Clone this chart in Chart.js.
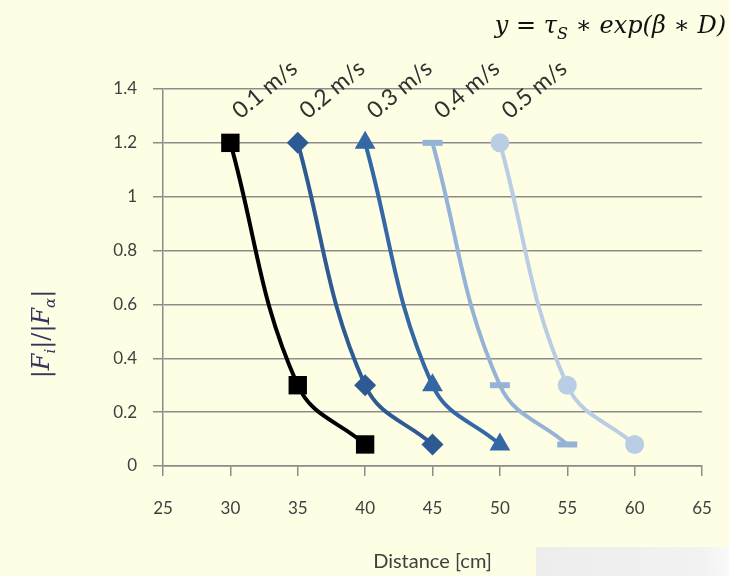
<!DOCTYPE html>
<html><head><meta charset="utf-8">
<script src="https://cdn.jsdelivr.net/npm/chart.js@4"></script>
<style>html,body{margin:0;padding:0;background:#fefee4;}#wrap{width:729px;height:576px;}</style>
</head><body><div id="wrap"><canvas id="c" width="729" height="576"></canvas></div>
<script>
const seriesNames = ['0.1 m/s', '0.2 m/s', '0.3 m/s', '0.4 m/s', '0.5 m/s'];
const dist01 = [30, 35, 40];
const dist02 = [35, 40, 45];
const dist03 = [40, 45, 50];
const dist04 = [45, 50, 55];
const dist05 = [50, 55, 60];
const ratio01 = [1.2, 0.3, 0.08];
const ratio02 = [1.2, 0.3, 0.08];
const ratio03 = [1.2, 0.3, 0.08];
const ratio04 = [1.2, 0.3, 0.08];
const ratio05 = [1.2, 0.3, 0.08];
const yTickValues = [0, 0.2, 0.4, 0.6, 0.8, 1, 1.2, 1.4];
const xTickValues = [25, 30, 35, 40, 45, 50, 55, 60, 65];
const xAxisTitle = 'Distance [cm]';

const allDist = [dist01, dist02, dist03, dist04, dist05];
const allRatio = [ratio01, ratio02, ratio03, ratio04, ratio05];
const colors = ['#000000', '#2e5a94', '#3467a6', '#95b3d7', '#b9cde5'];
const styles = ['rect', 'rectRot', 'triangle', 'line', 'circle'];
const radii = [13, 11, 12, 10, 9.5];

const datasets = seriesNames.map((name, i) => ({
  label: name,
  data: allDist[i].map((d, j) => ({x: d, y: allRatio[i][j]})),
  borderColor: colors[i],
  backgroundColor: colors[i],
  borderWidth: 4,
  tension: 0.4,
  pointStyle: styles[i],
  pointRadius: radii[i],
  pointBorderWidth: styles[i] === 'line' ? 6 : 0,
  pointBorderColor: colors[i],
  pointBackgroundColor: colors[i],
  clip: false
}));

const FONT = 'Lato, "Open Sans", sans-serif';
const txt = '#404040';
const gridC = '#8c8c8c';

const decor = {
  id: 'decor',
  beforeDraw(chart) {
    const ctx = chart.ctx;
    ctx.save();
    ctx.fillStyle = '#fefee4';
    ctx.fillRect(0, 0, chart.width, chart.height);
    const g = ctx.createLinearGradient(536, 576, 729, 547);
    g.addColorStop(0, '#ededed');
    g.addColorStop(0.85, '#f2f2f2');
    g.addColorStop(1, '#fafafa');
    ctx.fillStyle = g;
    ctx.fillRect(536, 547, 193, 29);
    ctx.restore();
  },
  afterDraw(chart) {
    const ctx = chart.ctx;
    const xs = chart.scales.x, ys = chart.scales.y;
    ctx.save();
    // series labels
    ctx.fillStyle = '#303030';
    ctx.font = '23px ' + FONT;
    ctx.textAlign = 'left';
    ctx.textBaseline = 'alphabetic';
    seriesNames.forEach((n, i) => {
      const px = xs.getPixelForValue(allDist[i][0]) + 10;
      const py = ys.getPixelForValue(allRatio[i][0]) - 23;
      ctx.save();
      ctx.translate(px, py);
      ctx.rotate(-40 * Math.PI / 180);
      ctx.fillText(n, 0, 0);
      ctx.restore();
    });
    // equation
    const SERIF = '"DejaVu Serif", "Liberation Serif", serif';
    const parts = [
      ['y = τ', 24, 0], ['S', 16, 6], [' ∗ exp(β ∗ D)', 24, 0]
    ];
    ctx.fillStyle = '#111';
    let w = 0;
    parts.forEach(p => { ctx.font = 'italic ' + p[1] + 'px ' + SERIF; w += ctx.measureText(p[0]).width; });
    let x = 726 - w;
    parts.forEach(p => {
      ctx.font = 'italic ' + p[1] + 'px ' + SERIF;
      ctx.fillText(p[0], x, 33 + p[2]);
      x += ctx.measureText(p[0]).width;
    });
    // y title
    const yparts = [
      ['|', '24px ' + SERIF, 0], ['F', 'italic 24px ' + SERIF, 0],
      ['i', 'italic 15px ' + SERIF, 6], ['|/|', '24px ' + SERIF, 0],
      ['F', 'italic 24px ' + SERIF, 0], ['α', 'italic 15px ' + SERIF, 6],
      ['|', '24px ' + SERIF, 0]
    ];
    ctx.fillStyle = '#3a325e';
    let tw = 0;
    yparts.forEach(p => { ctx.font = p[1]; tw += ctx.measureText(p[0]).width; });
    ctx.translate(49, 334);
    ctx.rotate(-Math.PI / 2);
    let tx = -tw / 2;
    yparts.forEach(p => {
      ctx.font = p[1];
      ctx.fillText(p[0], tx, p[2]);
      tx += ctx.measureText(p[0]).width;
    });
    ctx.restore();
  }
};

new Chart(document.getElementById('c'), {
  type: 'line',
  data: {datasets},
  options: {
    responsive: false,
    animation: false,
    layout: {padding: {top: 89, right: 27, left: 0, bottom: 0}},
    plugins: {legend: {display: false}, tooltip: {enabled: false}},
    scales: {
      x: {
        type: 'linear', min: 25, max: 65,
        afterBuildTicks: s => { s.ticks = xTickValues.map(v => ({value: v})); },
        afterFit: s => { s.height = 110; s.paddingRight = 0; s.paddingLeft = 0; },
        ticks: {color: txt, font: {size: 17, family: FONT}, padding: 22, maxRotation: 0},
        grid: {drawOnChartArea: false, drawTicks: true, tickLength: 10, color: gridC, lineWidth: 1.5},
        border: {color: gridC, width: 1.5},
        title: {display: true, text: xAxisTitle, color: txt, font: {size: 20, family: FONT}, padding: {top: 0, bottom: 2}}
      },
      y: {
        type: 'linear', min: 0, max: 1.4,
        afterBuildTicks: s => { s.ticks = yTickValues.map(v => ({value: v})); },
        afterFit: s => { s.width = 163; },
        ticks: {color: txt, font: {size: 17, family: FONT}, padding: 16, callback: v => String(+v.toFixed(2))},
        grid: {color: gridC, lineWidth: 1.5, tickLength: 10},
        border: {color: gridC, width: 1.5}
      }
    }
  },
  plugins: [decor]
});
</script></body></html>
